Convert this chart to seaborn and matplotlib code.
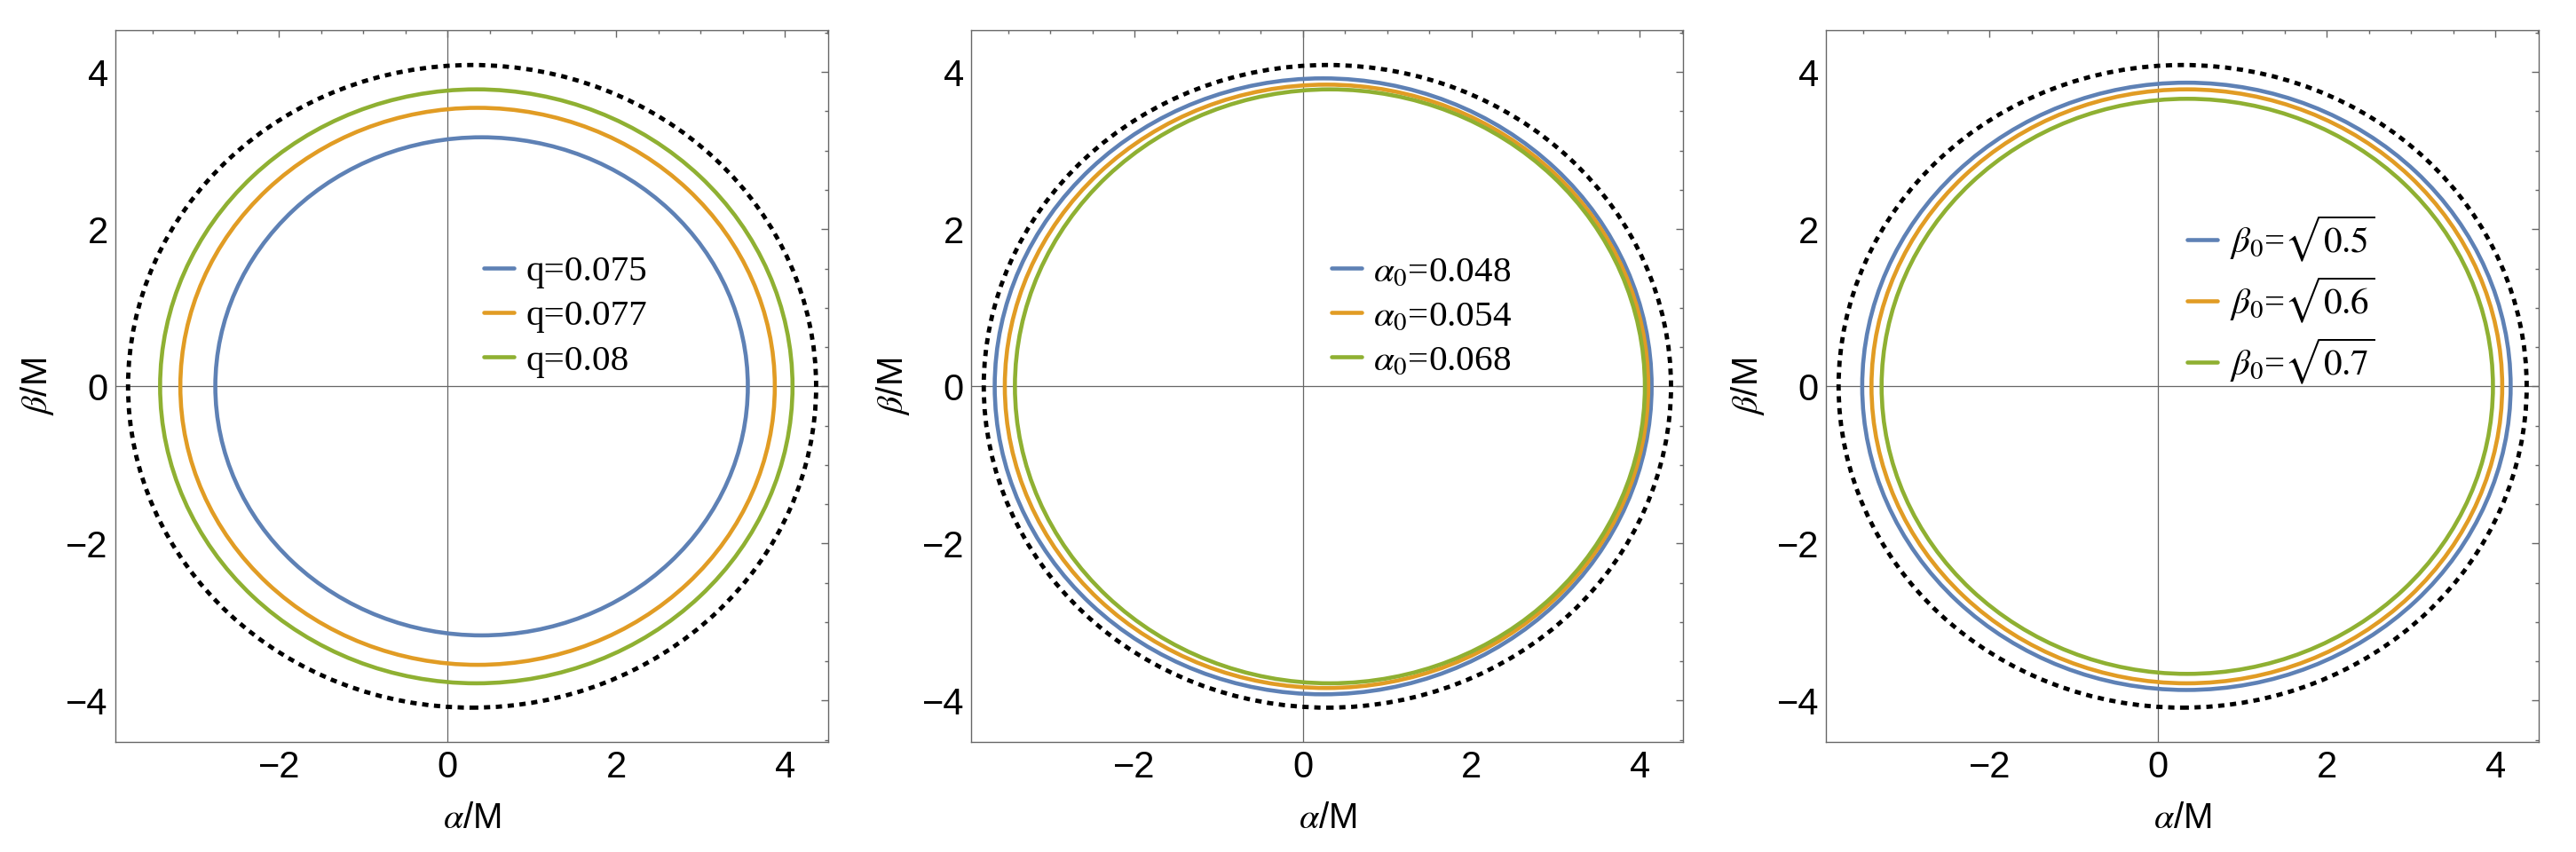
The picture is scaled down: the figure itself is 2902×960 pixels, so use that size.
import matplotlib
matplotlib.use("Agg")
import matplotlib.pyplot as plt
from matplotlib.patches import Ellipse
from matplotlib.ticker import MultipleLocator
import seaborn as sns

# Shadow outlines: left edge, right edge, half height (in M)
kerr_left, kerr_right, kerr_half = -3.79, 4.37, 4.09

q_labels = ["q=0.075", "q=0.077", "q=0.08"]
q_left = [-2.755, -3.17, -3.41]
q_right = [3.56, 3.88, 4.09]
q_half = [3.17, 3.545, 3.78]

a0_labels = [r"$\alpha_0$=0.048", r"$\alpha_0$=0.054", r"$\alpha_0$=0.068"]
a0_left = [-3.66, -3.54, -3.42]
a0_right = [4.14, 4.10, 4.06]
a0_half = [3.92, 3.84, 3.78]

b0_labels = [r"$\beta_0$=$\sqrt{0.5}$", r"$\beta_0$=$\sqrt{0.6}$", r"$\beta_0$=$\sqrt{0.7}$"]
b0_left = [-3.51, -3.40, -3.28]
b0_right = [4.18, 4.08, 3.97]
b0_half = [3.865, 3.78, 3.66]

x_ticks = [-2, 0, 2, 4]
y_ticks = [-4, -2, 0, 2, 4]

sns.set_style("white")
plt.rcParams["font.family"] = ["Liberation Sans", "DejaVu Sans"]
plt.rcParams["mathtext.fontset"] = "stix"
plt.rcParams["axes.unicode_minus"] = True
plt.rcParams["text.color"] = "black"
plt.rcParams["axes.labelcolor"] = "black"
plt.rcParams["xtick.labelcolor"] = "black"
plt.rcParams["ytick.labelcolor"] = "black"

palette = sns.color_palette(["#5E81B5", "#E19C24", "#8FB032"])
frame_gray = "#666666"


def shadow(ax, left, right, half, **kw):
    cx = (left + right) / 2
    ax.add_patch(Ellipse((cx, 0), right - left, 2 * half, fill=False, **kw))


def draw_panel(ax, labels, lefts, rights, halves, leg_xy):
    ax.axhline(0, color=frame_gray, lw=0.9, zorder=1)
    ax.axvline(0, color=frame_gray, lw=0.9, zorder=1)

    shadow(ax, kerr_left, kerr_right, kerr_half, edgecolor="black", lw=3.5,
           linestyle=(0, (1.45, 1.3)), capstyle="butt", zorder=3)
    handles = []
    for i, lab in enumerate(labels):
        shadow(ax, lefts[i], rights[i], halves[i], edgecolor=palette[i], lw=3.3, zorder=2)
        h, = ax.plot([], [], color=palette[i], lw=3.3, label=lab)
        handles.append(h)

    ax.set_xlim(-3.937, 4.516)
    ax.set_ylim(-4.53, 4.53)
    ax.set_xticks(x_ticks)
    ax.set_yticks(y_ticks)
    ax.xaxis.set_minor_locator(MultipleLocator(0.5))
    ax.yaxis.set_minor_locator(MultipleLocator(0.5))
    ax.tick_params(which="both", direction="in", top=True, right=True,
                   color=frame_gray, width=1.0)
    ax.tick_params(which="major", length=5.5, labelsize=30, pad=6)
    ax.tick_params(which="minor", length=3.2)
    for s in ax.spines.values():
        s.set_color(frame_gray)
        s.set_linewidth(1.0)

    ax.set_xlabel(r"$\alpha$/M", fontsize=29, labelpad=13)
    ax.set_ylabel(r"$\beta$/M", fontsize=29, labelpad=8)

    ax.legend(handles=handles, loc="center left", bbox_to_anchor=leg_xy,
              bbox_transform=ax.transData, frameon=False, borderpad=0,
              borderaxespad=0, handlelength=0.83, handletextpad=0.33,
              labelspacing=0.3, labelcolor="black",
              prop={"family": "Liberation Serif", "size": 29.6})


fig = plt.figure(figsize=(29.02, 9.6), dpi=100)
ax1 = fig.add_axes([0.04490, 0.12885, 0.27670, 0.83542])
ax2 = fig.add_axes([0.37709, 0.12885, 0.27636, 0.83542])
ax3 = fig.add_axes([0.70893, 0.12885, 0.27670, 0.83542])

draw_panel(ax1, q_labels, q_left, q_right, q_half, (0.43, 0.89))
draw_panel(ax2, a0_labels, a0_left, a0_right, a0_half, (0.334, 0.89))
draw_panel(ax3, b0_labels, b0_left, b0_right, b0_half, (0.344, 1.107))

fig.savefig("out.png", dpi=100)
